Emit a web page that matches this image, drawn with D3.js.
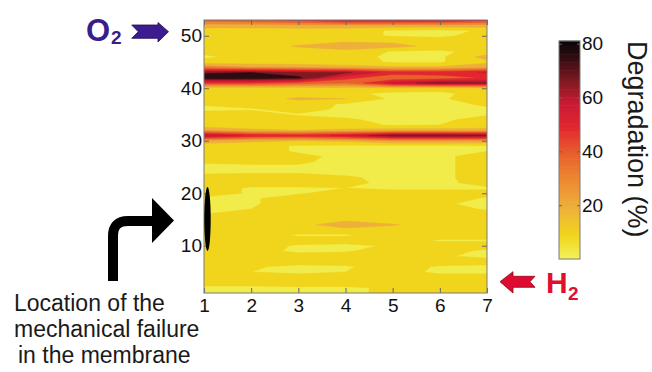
<!DOCTYPE html>
<html>
<head>
<meta charset="utf-8">
<script src="https://cdn.jsdelivr.net/npm/d3@7"></script>
<style>
  body { margin: 0; background: #fff; }
  svg { display: block; }
  text { font-family: "Liberation Sans", Arial, Helvetica, sans-serif; }
</style>
</head>
<body>
<svg id="chart" width="652" height="372"></svg>
<script>
// Cell positions along the stack (x) and channel index (y, 1 = H2 inlet, 53 = O2 inlet)
const positions = [1, 2, 3, 4, 5, 6, 7];
const channels = d3.range(1, 54);

// Degradation (%) per position, listed from channel 1 up to channel 53
const pos1 = [2,2,8,8,8,8,8,8,8,8, 8,8,8,8,8,4,2,2,2,8, 8,8,8,2,2,5,8,8,8,20, 62,22,8,8,8,2,5,8,8,8, 45,76,68,30,8,2,8,8,8,8, 8,20,38];
const pos2 = [2,2,8,8,4,5,8,8,8,8, 8,8,8,8,8,8,4,3,3,3, 3,8,8,3,2,6,8,8,8,16, 52,16,8,8,8,3,8,8,8,8, 45,76,70,24,8,8,8,8,8,8, 8,20,42];
const pos3 = [2,3,8,8,2,2,8,8,2,3, 8,3,8,8,8,12,8,8,8,3, 3,8,8,3,3,5,6,3,3,14, 50,14,8,8,3,8,8,16,8,10, 40,72,64,22,8,8,9,15,10,8, 8,22,46];
const pos4 = [3,3,8,8,4,3,8,8,3,2, 8,3,8,24,10,8,8,8,8,8, 4,6,5,2,2,2,2,2,2,16, 56,16,8,5,2,2,3,14,6,12, 35,48,64,18,8,8,12,18,13,8, 8,22,56];
const pos5 = [5,5,8,8,8,8,8,8,8,5, 8,8,8,15,8,8,8,8,8,8, 2,2,2,2,2,2,2,2,2,24, 68,18,3,2,2,2,2,2,2,10, 58,35,50,16,3,2,3,17,12,3, 3,22,56];
const pos6 = [8,8,8,8,2,3,8,5,8,8, 3,8,8,8,8,8,8,5,8,8, 2,2,2,2,2,2,2,2,2,24, 68,18,4,2,2,2,2,3,2,8, 66,38,50,16,3,2,2,11,9,2, 2,22,54];
const pos7 = [8,8,8,8,2,2,8,2,2,8, 3,8,8,8,8,8,3,2,3,6, 3,7,8,8,8,8,8,4,3,22, 66,18,8,8,3,3,5,8,8,12, 64,45,55,20,12,18,8,8,8,8, 5,20,48];

// Ticks and filled-contour levels
const xTicks = [1, 2, 3, 4, 5, 6, 7];
const yTicks = [10, 20, 30, 40, 50];
const cbTicks = [20, 40, 60, 80];
const levels = [0, 4, 14, 24, 34, 44, 54, 62, 70, 81];

// Colour map (yellow -> orange -> red -> black)
const cmapStops  = [0, 2, 9, 19, 29, 39, 49, 58, 66, 75.5, 81];
const cmapColors = ["#f4f25c", "#f2ec4a", "#f1d41c", "#eeb03a", "#ec8a32", "#e8602c",
                    "#e2262e", "#c81a34", "#801a22", "#2c0c10", "#080606"];

const svg = d3.select("#chart");
const cmap = d3.scaleLinear().domain(cmapStops).range(cmapColors).clamp(true);

const x = d3.scaleLinear().domain([1, 7]).range([204, 487]);
const y = d3.scaleLinear().domain([1, 53]).range([293, 20]);

// ---- filled contours ----
const columns = [pos1, pos2, pos3, pos4, pos5, pos6, pos7];
const nx = positions.length, ny = channels.length;
const grid = new Array(nx * ny);
for (let r = 0; r < ny; r++)
  for (let c = 0; c < nx; c++) grid[r * nx + c] = columns[c][r];

const contours = d3.contours().size([nx, ny]).thresholds(levels.slice(1, -1))(grid);
const proj = d3.geoTransform({
  point(px, py) { this.stream.point(x(positions[0] + px - 0.5), y(channels[0] + py - 0.5)); }
});
const path = d3.geoPath(proj);

svg.append("clipPath").attr("id", "plotClip")
  .append("rect")
  .attr("x", x(1)).attr("y", y(53))
  .attr("width", x(7) - x(1)).attr("height", y(1) - y(53));

const bandColor = i => cmap((levels[i] + levels[i + 1]) / 2);

const plot = svg.append("g").attr("clip-path", "url(#plotClip)");
plot.append("rect")
  .attr("x", x(1)).attr("y", y(53))
  .attr("width", x(7) - x(1)).attr("height", y(1) - y(53))
  .attr("fill", bandColor(0));
plot.selectAll("path.band")
  .data(contours)
  .join("path")
  .attr("class", "band")
  .attr("d", path)
  .attr("fill", (d, i) => bandColor(i + 1))
  .attr("stroke", (d, i) => bandColor(i + 1))
  .attr("stroke-width", 0.4);

// ---- axes (box with inward ticks on every side) ----
const tickFont = g => g.selectAll("text")
  .attr("font-size", 19).attr("fill", "#111")
  .attr("font-family", "'Liberation Sans', Arial, sans-serif");
const axisStyle = g => {
  g.select(".domain").remove();
  g.selectAll(".tick line").attr("stroke", "#666");
};

svg.append("g").attr("transform", `translate(${x(1)},0)`)
  .call(d3.axisLeft(y).tickValues(yTicks).tickSize(-5).tickPadding(2))
  .call(axisStyle).call(tickFont);
svg.append("g").attr("transform", `translate(${x(7)},0)`)
  .call(d3.axisRight(y).tickValues(yTicks).tickSize(-5).tickFormat(""))
  .call(axisStyle);
svg.append("g").attr("transform", `translate(0,${y(1)})`)
  .call(d3.axisBottom(x).tickValues(xTicks).tickSize(-5).tickPadding(5.5).tickFormat(d3.format("d")))
  .call(axisStyle).call(tickFont);
svg.append("g").attr("transform", `translate(0,${y(53)})`)
  .call(d3.axisTop(x).tickValues(xTicks).tickSize(-5).tickFormat(""))
  .call(axisStyle);

svg.append("rect")
  .attr("x", x(1)).attr("y", y(53))
  .attr("width", x(7) - x(1)).attr("height", y(1) - y(53))
  .attr("fill", "none").attr("stroke", "#7a7a7a").attr("stroke-width", 1);

// ---- colour bar ----
const cb = { x0: 559, x1: 580 };
const cy = d3.scaleLinear().domain([0, 81]).range([259, 41]);
const cbSteps = d3.range(0, 81, 1);
svg.append("g").selectAll("rect")
  .data(cbSteps)
  .join("rect")
  .attr("x", cb.x0).attr("width", cb.x1 - cb.x0)
  .attr("y", d => cy(d + 1) - 0.3)
  .attr("height", d => cy(d) - cy(d + 1) + 0.6)
  .attr("fill", d => cmap(d + 0.5));
svg.append("rect")
  .attr("x", cb.x0).attr("y", cy(81))
  .attr("width", cb.x1 - cb.x0).attr("height", cy(0) - cy(81))
  .attr("fill", "none").attr("stroke", "#7a7a7a").attr("stroke-width", 1);
svg.append("g").attr("transform", `translate(${cb.x1},0)`)
  .call(d3.axisRight(cy).tickValues(cbTicks).tickSize(-3).tickPadding(2))
  .call(axisStyle).call(tickFont);
svg.append("g").attr("transform", `translate(${cb.x0},0)`)
  .call(d3.axisLeft(cy).tickValues(cbTicks).tickSize(-3).tickFormat(""))
  .call(axisStyle);

svg.append("text")
  .attr("transform", "translate(628,41) rotate(90)")
  .attr("font-size", 27).attr("fill", "#1a1a1a")
  .text("Degradation (%)");

// ---- gas inlet markers ----
const o2 = svg.append("g");
o2.append("text").attr("x", 86).attr("y", 41)
  .attr("font-size", 31).attr("font-weight", "bold").attr("fill", "#3b1c8c").text("O");
o2.append("text").attr("x", 111).attr("y", 43.5)
  .attr("font-size", 19).attr("font-weight", "bold").attr("fill", "#3b1c8c").text("2");
o2.append("polygon")
  .attr("points", "131.7,25 138.3,31.7 131.7,38.3 158,38.3 158,42 168.5,31.7 158,22.5 158,25")
  .attr("fill", "#3c1c8e").attr("stroke", "#1e0e4a").attr("stroke-width", 0.8);

const h2 = svg.append("g");
h2.append("polygon")
  .attr("points", "500,281.7 513,271.7 513,276.3 535,276.3 530,281.7 535,287.3 513,287.3 513,293")
  .attr("fill", "#de0a30").attr("stroke", "#8a0a1a").attr("stroke-width", 0.8);
h2.append("text").attr("x", 546).attr("y", 293)
  .attr("font-size", 30).attr("font-weight", "bold").attr("fill", "#e0102c").text("H");
h2.append("text").attr("x", 568).attr("y", 300)
  .attr("font-size", 19).attr("font-weight", "bold").attr("fill", "#e0102c").text("2");

// ---- mechanical failure annotation ----
svg.append("ellipse")
  .attr("cx", 207.5).attr("cy", 219).attr("rx", 3.2).attr("ry", 32)
  .attr("fill", "#000");
svg.append("path")
  .attr("d", "M113,281 V236 Q113,221 128,221 H156")
  .attr("fill", "none").attr("stroke", "#000").attr("stroke-width", 10);
svg.append("polygon")
  .attr("points", "152,198 174,220.5 152,243")
  .attr("fill", "#000");

const noteLines = [
  { t: "Location of the", x: 14, y: 311 },
  { t: "mechanical failure", x: 14, y: 337 },
  { t: "in the membrane", x: 18, y: 363 }
];
svg.append("g").selectAll("text")
  .data(noteLines)
  .join("text")
  .attr("x", d => d.x).attr("y", d => d.y)
  .attr("font-size", 23).attr("fill", "#1a1a1a")
  .text(d => d.t);
</script>
</body>
</html>
